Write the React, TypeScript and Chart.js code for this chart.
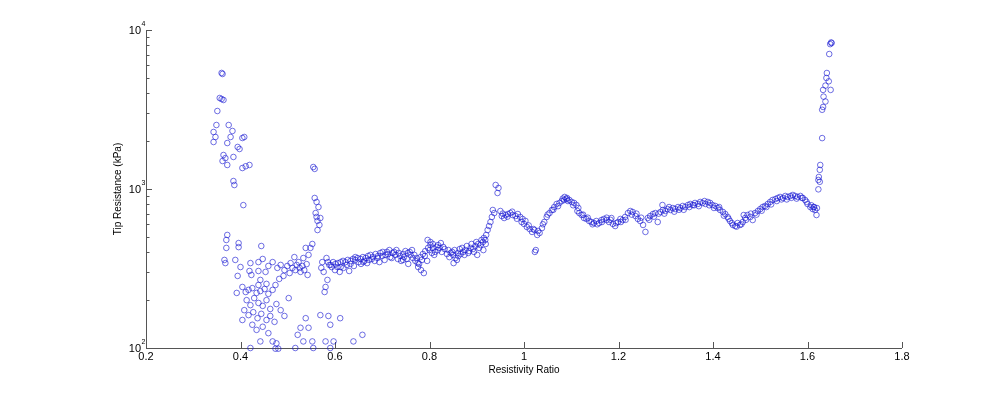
import React, { useEffect, useRef } from "react";
import { Chart, registerables } from "chart.js";

Chart.register(...registerables);

// ---------- axis text ----------
const xTitle = "Resistivity Ratio";
const yTitle = "Tip Resistance (kPa)";
const xTickValues = [0.2, 0.4, 0.6, 0.8, 1.0, 1.2, 1.4, 1.6, 1.8];
const xTickLabels = ["0.2", "0.4", "0.6", "0.8", "1", "1.2", "1.4", "1.6", "1.8"];
const yDecadeValues = [100, 1000, 10000];
const yDecadeExponents = ["2", "3", "4"];

// ---------- data: left upper branch ----------
const leftBranchRatio = [0.360, 0.362, 0.356, 0.364, 0.360, 0.351, 0.349, 0.375, 0.343, 0.347, 0.343, 0.383, 0.379, 0.372, 0.404, 0.408, 0.394, 0.398, 0.364, 0.362, 0.372, 0.385, 0.368, 0.404, 0.411, 0.419, 0.385, 0.387, 0.406];
const leftBranchTip = [5370, 5290, 3735, 3630, 3680, 3094, 2526, 2526, 2283, 2124, 1975, 2317, 2124, 1946, 2093, 2124, 1838, 1785, 1636, 1500, 1416, 1590, 1565, 1355, 1390, 1416, 1122, 1059, 792];

// ---------- data: middle spike near 0.55 ----------
const midBranchRatio = [0.554, 0.557, 0.557, 0.561, 0.565, 0.561, 0.563, 0.567, 0.563, 0.559, 0.569];
const midBranchTip = [1375, 1338, 878, 829, 770, 667, 630, 594, 552, 706, 657];

// ---------- data: low scattered cloud ----------
const cloudRatio = [
  0.372, 0.370, 0.370, 0.396, 0.396, 0.444, 0.538, 0.552, 0.548, 0.366, 0.368, 0.389, 0.400, 0.421, 0.438, 0.447,
  0.394, 0.419, 0.423, 0.438, 0.442, 0.478, 0.485, 0.493, 0.499, 0.506, 0.510, 0.516, 0.519, 0.525, 0.527, 0.531,
  0.535, 0.540, 0.542, 0.491, 0.482, 0.504, 0.523, 0.533, 0.544, 0.514, 0.468, 0.459, 0.453, 0.573, 0.576, 0.584,
  0.580, 0.578, 0.571, 0.582, 0.404, 0.411, 0.417, 0.425, 0.434, 0.442, 0.451, 0.459, 0.468, 0.413, 0.421, 0.429,
  0.438, 0.447, 0.455, 0.463, 0.408, 0.417, 0.427, 0.436, 0.444, 0.455, 0.463, 0.472, 0.425, 0.434, 0.447, 0.459,
  0.476, 0.485, 0.493, 0.502, 0.404, 0.438, 0.392, 0.474, 0.455, 0.569, 0.586, 0.611, 0.590, 0.658, 0.544, 0.527,
  0.521, 0.538, 0.442, 0.468, 0.476, 0.533, 0.552, 0.580, 0.597, 0.639, 0.421, 0.474, 0.480, 0.516, 0.554, 0.590,
  0.588, 0.593, 0.585,
];
const cloudTip = [
  514, 478, 426, 457, 431, 438, 426, 451, 426, 358, 342, 358, 323, 342, 347, 363,
  284, 305, 288, 305, 268, 319, 333, 309, 328, 342, 319, 309, 333, 319, 301, 328,
  309, 337, 288, 284, 272, 296, 347, 368, 385, 373, 347, 328, 301, 347, 301, 268,
  242, 225, 319, 368, 242, 225, 232, 238, 222, 228, 235, 219, 232, 200, 186, 206,
  192, 184, 200, 176, 173, 161, 168, 154, 164, 150, 159, 146, 140, 130, 136, 124,
  189, 173, 159, 206, 150, 249, 222, 249, 253, 161, 159, 154, 140, 121, 134, 134,
  121, 154, 110, 110, 107, 110, 110, 110, 110, 110, 100, 99, 99, 100, 100, 100,
  333, 323, 347,
];

// ---------- data: main trend ----------
const trendRatio = [
  0.591, 0.596, 0.601, 0.606, 0.612, 0.617, 0.622, 0.627, 0.633, 0.638, 0.643, 0.648, 0.654, 0.659, 0.665, 0.670,
  0.675, 0.680, 0.612, 0.633, 0.643, 0.660,
  0.686, 0.691, 0.696, 0.701, 0.707, 0.712, 0.717, 0.722, 0.728, 0.733, 0.738, 0.744, 0.749, 0.754, 0.760, 0.765,
  0.770, 0.775, 0.781, 0.786, 0.791, 0.797, 0.802, 0.807, 0.812, 0.818, 0.776, 0.782, 0.788, 0.744, 0.755,
  0.796, 0.802, 0.807, 0.818, 0.824, 0.829, 0.840, 0.845, 0.850, 0.855, 0.861, 0.866, 0.851, 0.858,
  0.871, 0.876, 0.882, 0.887, 0.892, 0.897, 0.903, 0.908, 0.913, 0.918, 0.914, 0.901,
  0.920, 0.923, 0.926, 0.929, 0.932, 0.934, 0.940, 0.946, 0.944, 0.950, 0.937,
  0.953, 0.958, 0.961, 0.966, 0.971, 0.976, 0.982, 0.987, 0.992, 0.997,
  1.000, 1.006, 1.012, 1.017, 1.022, 1.028, 1.025, 1.023, 1.033, 1.038,
  1.043, 1.048, 1.054, 1.059, 1.064, 1.069, 1.075, 1.080, 1.085, 1.090, 1.096, 1.101, 1.106, 1.111, 1.086, 1.091,
  1.113, 1.117, 1.122, 1.127, 1.132, 1.138, 1.143, 1.148, 1.153, 1.159, 1.164, 1.169, 1.175, 1.180, 1.185,
  1.188, 1.193, 1.199, 1.204, 1.209, 1.214, 1.220, 1.225, 1.230, 1.236, 1.241, 1.246, 1.252, 1.257, 1.262, 1.267,
  1.273, 1.278, 1.283, 1.289, 1.294, 1.299, 1.304, 1.310, 1.315, 1.320, 1.326, 1.331, 1.336, 1.341, 1.347, 1.352,
  1.357, 1.362, 1.368, 1.373, 1.378, 1.384, 1.389, 1.394, 1.399, 1.405, 1.410, 1.415, 1.421, 1.426, 1.431, 1.436,
  1.442, 1.447, 1.452, 1.457, 1.463, 1.468, 1.473, 1.479, 1.484, 1.489, 1.495, 1.500, 1.505, 1.510, 1.516, 1.521,
  1.526, 1.532, 1.537, 1.542, 1.548, 1.553, 1.558, 1.564, 1.569, 1.574, 1.579, 1.585, 1.590, 1.595, 1.600, 1.606,
  1.611, 1.616, 1.614, 1.620, 1.465, 1.293,
];
const trendTip = [
  333, 347, 338, 342, 347, 353, 347, 358, 353, 363, 358, 368, 363, 373, 368, 379,
  385, 373, 323, 338, 373, 347,
  390, 379, 396, 402, 385, 390, 373, 396, 385, 363, 379, 390, 407, 396, 385, 368,
  353, 342, 373, 390, 407, 426, 444, 426, 402, 413, 323, 309, 296, 358, 338,
  478, 464, 451, 444, 457, 432, 413, 396, 385, 368, 379, 390, 342, 358,
  402, 413, 396, 426, 419, 438, 451, 444, 464, 478, 413, 385,
  514, 552, 585, 620, 667, 738, 1060, 1015, 944, 727, 706,
  676, 657, 686, 696, 706, 686, 676, 696, 667, 648,
  603, 577, 560, 537, 552, 514, 413, 402, 529, 568,
  620, 667, 706, 738, 770, 805, 817, 840, 853, 865, 853, 829, 817, 793, 891, 878,
  727, 706, 686, 657, 648, 629, 620, 611, 629, 611, 638, 648, 638, 620, 657,
  603, 585, 620, 648, 638, 667, 706, 727, 717, 676, 648, 629, 594, 537, 657, 676,
  696, 706, 620, 717, 738, 727, 748, 738, 759, 748, 770, 759, 782, 770, 793, 805,
  793, 817, 805, 829, 817, 805, 829, 817, 793, 782, 759, 738, 717, 696, 667, 629,
  594, 585, 611, 594, 620, 657, 686, 667, 638, 706, 727, 748, 770, 782, 805, 829,
  853, 865, 878, 891, 878, 904, 891, 904, 917, 904, 891, 904, 878, 853, 805, 770,
  748, 738, 770, 759, 686, 793,
];

// ---------- data: spread of the trend band ----------
const bandRatio = [
  0.600, 0.605, 0.610, 0.618, 0.625, 0.630, 0.640, 0.650, 0.655, 0.662, 0.668, 0.672, 0.678, 0.684, 0.690, 0.694,
  0.700, 0.705, 0.710, 0.715, 0.720, 0.725, 0.730, 0.735, 0.740, 0.746, 0.752, 0.758, 0.763, 0.768, 0.773, 0.778,
  0.784, 0.790, 0.795, 0.800, 0.805, 0.810, 0.815, 0.821, 0.826, 0.832, 0.837, 0.842, 0.848, 0.853, 0.860, 0.864,
  0.869, 0.874, 0.879, 0.884, 0.889, 0.894, 0.899, 0.905, 0.910, 0.915, 0.919,
  0.955, 0.965, 0.975, 0.985, 0.995, 1.003, 1.010, 1.020, 1.030, 1.040, 1.050, 1.062, 1.072, 1.082, 1.093, 1.104,
  1.115, 1.125, 1.135, 1.145, 1.155, 1.165, 1.175, 1.183, 1.195, 1.205, 1.215, 1.228, 1.238, 1.248, 1.265, 1.275,
  1.285, 1.297, 1.307, 1.318, 1.328, 1.338, 1.350, 1.360, 1.370, 1.382, 1.392, 1.402, 1.413, 1.423, 1.433, 1.440,
  1.450, 1.460, 1.470, 1.480, 1.492, 1.503, 1.513, 1.523, 1.535, 1.545, 1.556, 1.566, 1.577, 1.588, 1.598, 1.608,
];
const bandTip = [
  309, 323, 301, 319, 333, 305, 328, 347, 338, 353, 342, 358, 363, 353, 368, 347,
  379, 358, 402, 413, 368, 402, 413, 396, 353, 373, 363, 402, 413, 385, 368, 338,
  358, 379, 353, 413, 396, 385, 432, 426, 402, 419, 390, 373, 402, 413, 396, 419,
  426, 385, 438, 407, 451, 402, 464, 426, 478, 492, 451,
  700, 670, 720, 650, 620, 630, 590, 560, 545, 600, 690, 740, 780, 870, 840, 790,
  760, 690, 660, 600, 600, 620, 660, 640, 610, 620, 640, 690, 700, 660, 640, 670,
  700, 700, 770, 720, 740, 740, 770, 790, 780, 840, 790, 760, 770, 680, 650, 610,
  580, 600, 640, 700, 690, 730, 770, 800, 840, 860, 860, 880, 870, 880, 830, 790,
];

// ---------- data: right upper branch ----------
const rightBranchRatio = [1.651, 1.646, 1.648, 1.641, 1.640, 1.645, 1.638, 1.633, 1.649, 1.634, 1.638, 1.633, 1.631, 1.631, 1.627, 1.626, 1.624, 1.623, 1.626, 1.623, 1.613, 1.619, 1.650];
const rightBranchTip = [8280, 7060, 8150, 5365, 4990, 4757, 4470, 4200, 4200, 3810, 3550, 3280, 3150, 2090, 1416, 1320, 1190, 1140, 1110, 995, 770, 686, 8350];

const allRatio = [...leftBranchRatio, ...midBranchRatio, ...cloudRatio, ...trendRatio, ...bandRatio, ...rightBranchRatio];
const allTip = [...leftBranchTip, ...midBranchTip, ...cloudTip, ...trendTip, ...bandTip, ...rightBranchTip];

const FONT = "'Liberation Sans', Arial, Helvetica, sans-serif";
const AXIS_COLOR = "#555555";

const axesPlugin = {
  id: "matlabAxes",
  beforeDatasetsDraw(chart: any) {
    const ctx = chart.ctx as CanvasRenderingContext2D;
    const { left, right, top, bottom } = chart.chartArea;
    const xs = chart.scales.x;
    const ys = chart.scales.y;
    ctx.save();
    ctx.strokeStyle = AXIS_COLOR;
    ctx.lineWidth = 1;
    ctx.beginPath();
    ctx.moveTo(left + 0.5, top);
    ctx.lineTo(left + 0.5, bottom + 0.5);
    ctx.lineTo(right, bottom + 0.5);
    ctx.stroke();
    ctx.beginPath();
    xTickValues.forEach((v) => {
      const px = Math.round(xs.getPixelForValue(v)) + 0.5;
      ctx.moveTo(px, bottom);
      ctx.lineTo(px, bottom - 6);
    });
    for (let d = 0; d < yDecadeValues.length; d++) {
      const base = yDecadeValues[d];
      const py = Math.round(ys.getPixelForValue(base)) + 0.5;
      ctx.moveTo(left, py);
      ctx.lineTo(left + 6, py);
      if (d < yDecadeValues.length - 1) {
        for (let m = 2; m <= 9; m++) {
          const pm = Math.round(ys.getPixelForValue(base * m)) + 0.5;
          ctx.moveTo(left, pm);
          ctx.lineTo(left + 3.5, pm);
        }
      }
    }
    ctx.stroke();

    ctx.fillStyle = "#000";
    ctx.font = `11px ${FONT}`;
    ctx.textAlign = "center";
    ctx.textBaseline = "top";
    xTickValues.forEach((v, i) => {
      ctx.fillText(xTickLabels[i], xs.getPixelForValue(v), bottom + 3);
    });
    yDecadeValues.forEach((v, i) => {
      const py = ys.getPixelForValue(v);
      ctx.font = `11px ${FONT}`;
      ctx.textAlign = "right";
      ctx.textBaseline = "middle";
      ctx.fillText("10", left - 5, py + 0.5);
      ctx.font = `7px ${FONT}`;
      ctx.textAlign = "left";
      ctx.fillText(yDecadeExponents[i], left - 4.5, py - 5.5);
    });
    ctx.font = `10px ${FONT}`;
    ctx.textAlign = "center";
    ctx.textBaseline = "middle";
    ctx.fillText(xTitle, (left + right) / 2, bottom + 22);
    ctx.save();
    ctx.translate(left - 28, (top + bottom) / 2);
    ctx.rotate(-Math.PI / 2);
    ctx.fillText(yTitle, 0, 0);
    ctx.restore();
    ctx.restore();
  },
};

export default function App() {
  const canvasRef = useRef<HTMLCanvasElement>(null);

  useEffect(() => {
    document.body.style.margin = "0";
    const canvas = canvasRef.current;
    if (!canvas) return;
    const points = allRatio.map((x, i) => ({ x, y: allTip[i] }));
    const chart = new Chart(canvas, {
      type: "scatter",
      data: {
        datasets: [
          {
            data: points,
            pointStyle: "circle",
            pointRadius: 2.8,
            pointBorderWidth: 1,
            borderColor: "rgba(25,25,210,0.62)",
            backgroundColor: "rgba(0,0,0,0)",
            pointBackgroundColor: "rgba(0,0,0,0)",
            pointBorderColor: "rgba(25,25,210,0.62)",
            clip: false,
          } as any,
        ],
      },
      options: {
        responsive: false,
        animation: false,
        devicePixelRatio: 1,
        events: [],
        layout: { padding: { left: 146, right: 103, top: 30, bottom: 55 } },
        plugins: { legend: { display: false }, tooltip: { enabled: false } },
        scales: {
          x: { type: "linear", min: 0.2, max: 1.8, display: false },
          y: { type: "logarithmic", min: 100, max: 10000, display: false },
        },
      },
      plugins: [axesPlugin],
    });
    return () => chart.destroy();
  }, []);

  return (
    <div style={{ width: 1005, height: 403, background: "#fff" }}>
      <canvas ref={canvasRef} width={1005} height={403} style={{ display: "block" }} />
    </div>
  );
}
